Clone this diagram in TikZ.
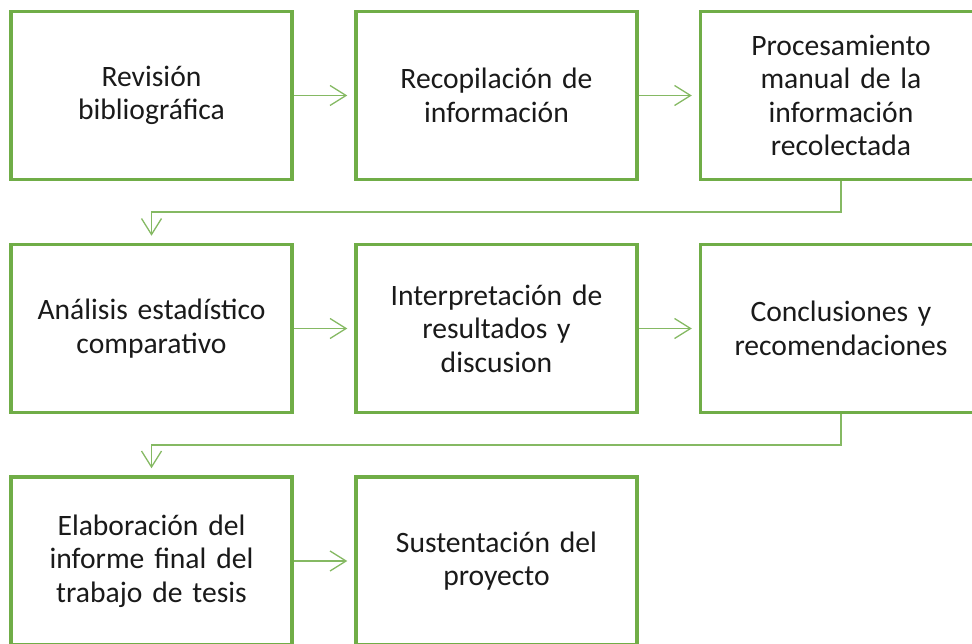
\documentclass[tikz,border=0pt]{standalone}
\usepackage{fontspec}
\setmainfont{Carlito}
\usetikzlibrary{arrows.meta}
\definecolor{ofgreen}{HTML}{70AD47}
\definecolor{txt}{HTML}{1A1A1A}
\tikzset{
  stepbox/.style={draw=ofgreen, line width=3.5pt, fill=white, minimum width=281pt, minimum height=168pt,
    text width=262pt, align=center, inner sep=0pt, text=txt,
    font=\fontsize{29.6}{33.5}\selectfont},
  conn/.style={draw=ofgreen!85!white, line width=1.3pt,
    -{Straight Barb[length=16pt,width=20pt,line width=1.3pt]}, shorten >=7pt},
}
\begin{document}
\begin{tikzpicture}[x=1pt,y=-1pt]
\useasboundingbox (0,0) rectangle (972,644);
\node[stepbox] (a) at (151.5,95.5) {Revisión\\bibliográfica};
\node[stepbox] (b) at (496.5,95.5) {Recopilación de\\información};
\node[stepbox] (c) at (841,95.5) {Procesamiento\\manual de la\\información\\recolectada};
\node[stepbox] (d) at (151.5,328.5) {Análisis estadístico\\comparativo};
\node[stepbox] (e) at (496.5,328.5) {Interpretación de\\resultados y\\discusion};
\node[stepbox] (f) at (841,328.5) {Conclusiones y\\recomendaciones};
\node[stepbox] (g) at (151.5,561) {Elaboración del\\informe final del\\trabajo de tesis};
\node[stepbox] (h) at (496.5,561) {Sustentación del\\proyecto};
\coordinate (c1) at (841,212);
\coordinate (c2) at (151.5,212);
\coordinate (f1) at (841,445);
\coordinate (f2) at (151.5,445);
\draw[conn] (a.east) -- (b.west);
\draw[conn] (b.east) -- (c.west);
\draw[conn] (c.south) -- (c1) -- (c2) -- (d.north);
\draw[conn] (d.east) -- (e.west);
\draw[conn] (e.east) -- (f.west);
\draw[conn] (f.south) -- (f1) -- (f2) -- (g.north);
\draw[conn] (g.east) -- (h.west);
\end{tikzpicture}
\end{document}
